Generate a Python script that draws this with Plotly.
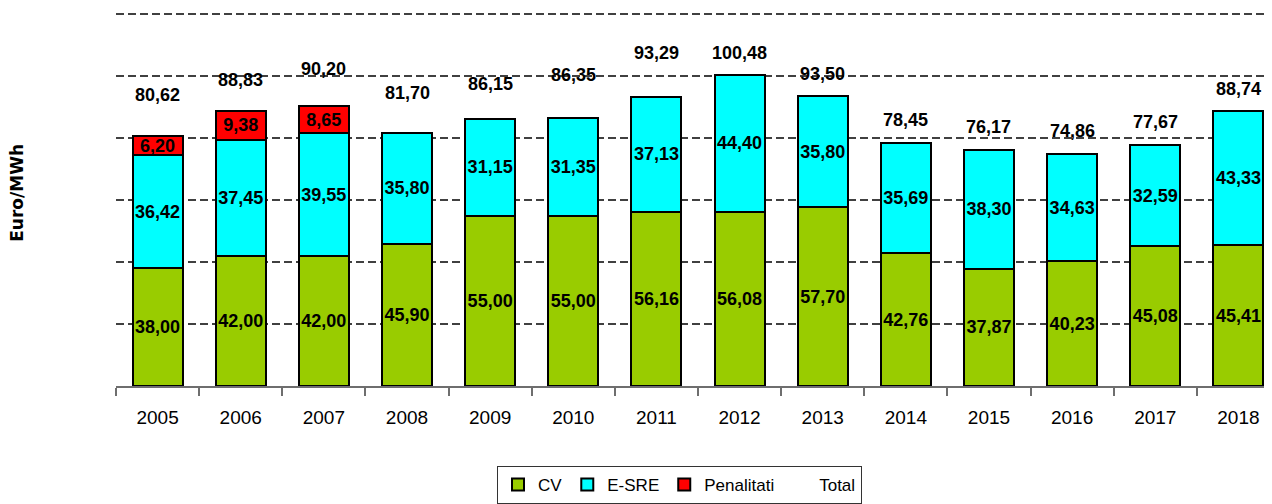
import plotly.graph_objects as go

years = ["2005", "2006", "2007", "2008", "2009", "2010", "2011",
         "2012", "2013", "2014", "2015", "2016", "2017", "2018"]
cv = [38.00, 42.00, 42.00, 45.90, 55.00, 55.00, 56.16,
      56.08, 57.70, 42.76, 37.87, 40.23, 45.08, 45.41]
esre = [36.42, 37.45, 39.55, 35.80, 31.15, 31.35, 37.13,
        44.40, 35.80, 35.69, 38.30, 34.63, 32.59, 43.33]
penalitati = [6.20, 9.38, 8.65, None, None, None, None,
              None, None, None, None, None, None, None]
total = [80.62, 88.83, 90.20, 81.70, 86.15, 86.35, 93.29,
         100.48, 93.50, 78.45, 76.17, 74.86, 77.67, 88.74]

# styling: how far (px) each total label sits above its bar top
total_label_lift_px = [41, 31, 37, 40, 35, 43, 44, 22, 22, 23, 23, 23, 23, 22]


def fmt(v):
    return "" if v is None else f"{v:.2f}".replace(".", ",")


SANS = "Liberation Sans, Arial, sans-serif"
label_font = dict(family=SANS, size=18, color="black", weight="bold")

# the page body adds an 8px offset; the figure fills the rest of the window
W, H = 1264, 496

fig = go.Figure()
for name, vals, color in [("CV", cv, "#99CC00"),
                          ("E-SRE", esre, "#00FFFF"),
                          ("Penalitati", penalitati, "#FF0000")]:
    fig.add_trace(go.Bar(
        name=name, x=years, y=vals,
        marker=dict(color=color, line=dict(color="black", width=2)),
        text=[fmt(v) for v in vals],
        textposition="inside", insidetextanchor="middle",
        textangle=0, constraintext="none",
        textfont=label_font,
        hoverinfo="skip",
    ))

fig.add_trace(go.Scatter(
    name="Total", x=years, y=total, mode="markers",
    marker=dict(size=10, color="rgba(0,0,0,0)"),
    hoverinfo="skip",
))

for i, (t, lift) in enumerate(zip(total, total_label_lift_px)):
    fig.add_annotation(x=i, y=t, xref="x", yref="y", text=fmt(t),
                       showarrow=False, yanchor="middle", yshift=lift,
                       font=label_font)

fig.add_annotation(
    text="Euro/MWh", textangle=-90, showarrow=False,
    xref="paper", yref="paper", x=-0.0852, y=0.514,
    xanchor="center", yanchor="middle",
    font=dict(family="DejaVu Sans, sans-serif", size=17, color="black",
              weight="bold"),
)

fig.update_layout(
    width=W, height=H,
    margin=dict(l=107.5, r=0, t=3.4, b=118),
    barmode="stack", bargap=0.4,
    plot_bgcolor="white", paper_bgcolor="white",
    showlegend=True,
    legend=dict(
        orientation="h", xref="container", yref="container",
        x=(679.5 - 8) / W, xanchor="center", y=1 - (466 - 8) / H, yanchor="top",
        bordercolor="#333333", borderwidth=1,
        font=dict(family=SANS, size=17, color="black"),
        itemwidth=30, traceorder="normal",
    ),
    xaxis=dict(
        type="category", range=[-0.5, 13.404],
        showline=True, linecolor="#6e6e6e", linewidth=1.5,
        ticks="outside", tickson="boundaries", ticklen=8,
        tickcolor="#6e6e6e", tickwidth=1.5,
        showgrid=False, ticklabelstandoff=13,
        tickfont=dict(family=SANS, size=19, color="black"),
    ),
    yaxis=dict(
        range=[0, 121], tickvals=[20, 40, 60, 80, 100, 120],
        showticklabels=False,
        showgrid=True, gridcolor="#404040", gridwidth=1.5,
        griddash="8px,4px", zeroline=False, showline=False,
    ),
)

fig.write_html("out.html")
